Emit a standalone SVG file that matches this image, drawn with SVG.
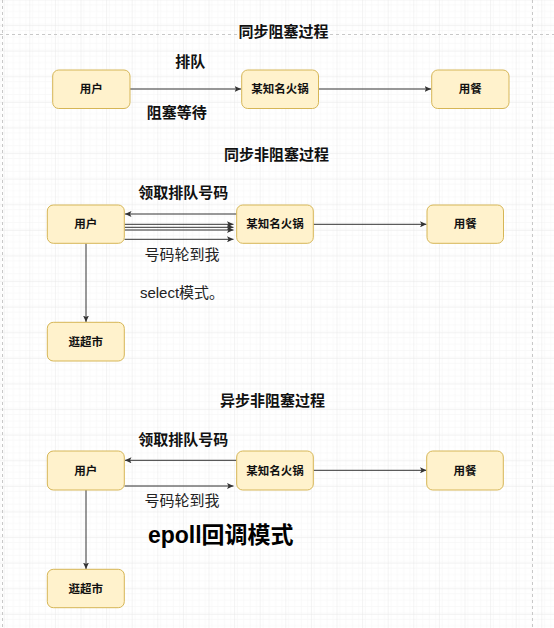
<svg xmlns="http://www.w3.org/2000/svg" width="554" height="628" viewBox="0 0 554 628">
<defs>
<pattern id="minor" x="3.7" y="25.1" width="6.4" height="6.4" patternUnits="userSpaceOnUse">
<path d="M6.4,0 V6.4 M0,6.4 H6.4" fill="none" stroke="#f4f4f4" stroke-width="1"/>
</pattern>
<pattern id="major" x="3.7" y="25.1" width="25.6" height="25.6" patternUnits="userSpaceOnUse">
<rect width="25.6" height="25.6" fill="url(#minor)"/>
<path d="M0,0 V25.6 M0,0 H25.6" fill="none" stroke="#e8e8e8" stroke-width="1"/>
</pattern>
<marker id="arr" markerUnits="userSpaceOnUse" markerWidth="7" markerHeight="6" refX="6.5" refY="3" orient="auto">
<path d="M0,0 L6.5,3 L0,6 L1.5,3 z" fill="#333"/>
</marker>
</defs>
<style>
.box{fill:#fff2cc;stroke:#d6b656;stroke-width:1}
.bt{font-family:"Liberation Sans","Noto Sans CJK SC",sans-serif;font-size:11.5px;font-weight:bold;fill:#111;text-anchor:middle;dominant-baseline:central}
.title{font-family:"Liberation Sans","Noto Sans CJK SC",sans-serif;font-size:15px;font-weight:bold;fill:#111;text-anchor:middle;dominant-baseline:central}
.lbl{font-family:"Liberation Sans","Noto Sans CJK SC",sans-serif;font-size:15px;fill:#222;text-anchor:middle;dominant-baseline:central}
.big{font-family:"Liberation Sans","Noto Sans CJK SC",sans-serif;font-size:23px;font-weight:bold;fill:#000;text-anchor:middle;dominant-baseline:central}
.c{fill:none;stroke:#333;stroke-width:1;marker-end:url(#arr)}
.pg{fill:none;stroke:#c8c8c8;stroke-width:1;stroke-dasharray:3 3}
</style>
<rect width="554" height="628" fill="#fff"/>
<rect width="554" height="628" fill="url(#major)"/>
<path class="pg" d="M0,34.5 H554 M532.5,0 V628 M2.5,0 V628"/>

<g id="connectors">
<path class="c" d="M130,89 H241"/>
<path class="c" d="M318.5,89 H431"/>
<path class="c" d="M236.5,214 H125"/>
<path class="c" d="M124.5,224.3 H233.5"/>
<path class="c" d="M124.5,227.3 H233.5"/>
<path class="c" d="M124.5,230 H233.5"/>
<path class="c" d="M124.5,239.3 H233.5"/>
<path class="c" d="M313.5,224.3 H426.5"/>
<path class="c" d="M86,243.5 V322"/>
<path class="c" d="M236.5,460.3 H125"/>
<path class="c" d="M124.5,486 H233.5"/>
<path class="c" d="M313.5,470.3 H426.5"/>
<path class="c" d="M86,490 V569"/>
</g>

<g id="labels">
<text class="title" x="283.5" y="31.7">同步阻塞过程</text>
<text class="title" x="190.3" y="61.7">排队</text>
<text class="title" x="176.7" y="112.3">阻塞等待</text>
<text class="title" x="276.5" y="154">同步非阻塞过程</text>
<text class="title" x="183.2" y="192.3">领取排队号码</text>
<text class="lbl" x="182" y="254">号码轮到我</text>
<text class="lbl" x="182" y="292.3">select模式。</text>
<text class="title" x="272.4" y="400.5">异步非阻塞过程</text>
<text class="title" x="183.2" y="439.3">领取排队号码</text>
<text class="lbl" x="182" y="500.6">号码轮到我</text>
<text class="big" x="220.8" y="535">epoll回调模式</text>
</g>

<g id="s1-user"><rect class="box" x="52.7" y="70" width="77.3" height="38.5" rx="6"/><text class="bt" x="91.3" y="89.2">用户</text></g>
<g id="s1-hotpot"><rect class="box" x="241.7" y="70" width="76.8" height="38.5" rx="6"/><text class="bt" x="280.1" y="89.2">某知名火锅</text></g>
<g id="s1-eat"><rect class="box" x="431.7" y="70" width="77.3" height="38.5" rx="6"/><text class="bt" x="470.3" y="89.2">用餐</text></g>

<g id="s2-user"><rect class="box" x="47.3" y="205" width="77" height="38.3" rx="6"/><text class="bt" x="85.8" y="224.2">用户</text></g>
<g id="s2-hotpot"><rect class="box" x="236.7" y="205" width="76.6" height="38.3" rx="6"/><text class="bt" x="275" y="224.2">某知名火锅</text></g>
<g id="s2-eat"><rect class="box" x="427" y="205" width="76.5" height="38.3" rx="6"/><text class="bt" x="465.2" y="224.2">用餐</text></g>
<g id="s2-shop"><rect class="box" x="47.3" y="322.3" width="77" height="38.7" rx="6"/><text class="bt" x="85.8" y="341.7">逛超市</text></g>

<g id="s3-user"><rect class="box" x="47.3" y="451" width="77" height="39" rx="6"/><text class="bt" x="85.8" y="470.5">用户</text></g>
<g id="s3-hotpot"><rect class="box" x="236.7" y="451" width="76.6" height="39" rx="6"/><text class="bt" x="275" y="470.5">某知名火锅</text></g>
<g id="s3-eat"><rect class="box" x="426.7" y="451" width="76.6" height="39" rx="6"/><text class="bt" x="465" y="470.5">用餐</text></g>
<g id="s3-shop"><rect class="box" x="47.3" y="569.3" width="77" height="38.4" rx="6"/><text class="bt" x="85.8" y="588.5">逛超市</text></g>
</svg>
